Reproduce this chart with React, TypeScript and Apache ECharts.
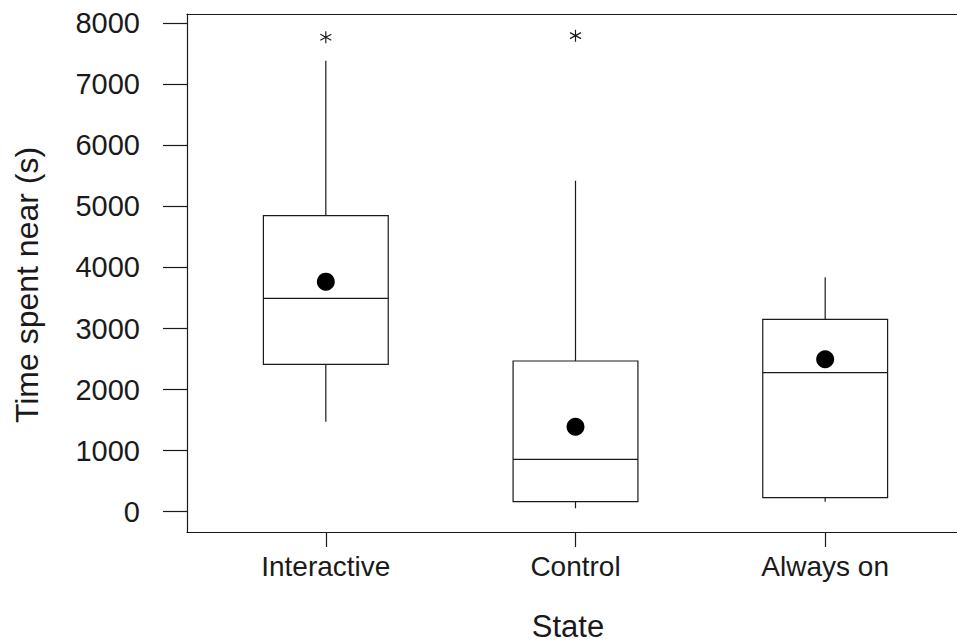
import React, { useEffect, useRef } from "react";
import * as echarts from "echarts";

const categories = ["Interactive", "Control", "Always on"];
const whiskerLow = [1474, 56, 164];
const q1 = [2414, 164, 229];
const median = [3495, 858, 2277];
const q3 = [4849, 2468, 3151];
const whiskerHigh = [7388, 5422, 3839];
const means = [3768, 1392, 2496];
const outlierCat = [1, 2];
const outlierVal = [7771, 7797];
const yTicks = [0, 1000, 2000, 3000, 4000, 5000, 6000, 7000, 8000];

const FONT = "'Liberation Sans', Arial, Helvetica, sans-serif";
const INK = "#1a1a1a";

export default function App() {
  const ref = useRef<HTMLDivElement>(null);
  useEffect(() => {
    if (!ref.current) return;
    const chart = echarts.init(ref.current, undefined, { renderer: "svg" });
    const boxData = categories.map((_, i) => [
      i + 1,
      whiskerLow[i],
      q1[i],
      median[i],
      q3[i],
      whiskerHigh[i],
    ]);
    const option: any = {
      animation: false,
      backgroundColor: "#ffffff",
      grid: {
        left: 187,
        right: 36,
        top: 14,
        bottom: 111,
        show: false,
      },
      xAxis: [
        {
          type: "value",
          min: 0.444,
          max: 3.556,
          splitLine: { show: false },
          axisLine: { show: true, onZero: false, lineStyle: { color: INK, width: 1.2 } },
          axisTick: {
            show: true,
            customValues: [1, 2, 3],
            length: 15,
            inside: false,
            lineStyle: { color: INK, width: 1.2 },
          },
          axisLabel: {
            show: true,
            customValues: [1, 2, 3],
            formatter: (v: number) => categories[Math.round(v) - 1] ?? "",
            fontSize: 28,
            fontFamily: FONT,
            color: INK,
            margin: 20,
          },
        },
        {
          type: "value",
          position: "top",
          min: 0.444,
          max: 3.556,
          splitLine: { show: false },
          axisLine: { show: true, onZero: false, lineStyle: { color: INK, width: 1.2 } },
          axisTick: { show: false },
          axisLabel: { show: false },
        },
      ],
      yAxis: {
        type: "value",
        min: -332.5,
        max: 8152,
        splitLine: { show: false },
        axisLine: { show: true, onZero: false, lineStyle: { color: INK, width: 1.2 } },
        axisTick: {
          show: true,
          customValues: yTicks,
          length: 24,
          inside: false,
          lineStyle: { color: INK, width: 1.2 },
        },
        axisLabel: {
          show: true,
          customValues: yTicks,
          formatter: (v: number) => String(v),
          fontSize: 29,
          fontFamily: FONT,
          color: INK,
          margin: 47,
        },
      },
      graphic: [
        {
          type: "text",
          x: 27,
          y: 285,
          rotation: Math.PI / 2,
          style: {
            text: "Time spent near (s)",
            fontSize: 32,
            fontFamily: FONT,
            fill: INK,
            align: "center",
            verticalAlign: "middle",
          },
        },
        {
          type: "text",
          x: 568,
          y: 626,
          style: {
            text: "State",
            fontSize: 31,
            lineHeight: 31,
            fontFamily: FONT,
            fill: INK,
            align: "center",
            verticalAlign: "middle",
          },
        },
      ],
      series: [
        {
          type: "custom",
          data: boxData,
          encode: { x: 0, y: [1, 2, 3, 4, 5] },
          renderItem: (params: any, api: any) => {
            const x = api.value(0);
            const lo = api.coord([x, api.value(1)]);
            const b1 = api.coord([x, api.value(2)]);
            const md = api.coord([x, api.value(3)]);
            const b3 = api.coord([x, api.value(4)]);
            const hi = api.coord([x, api.value(5)]);
            const half = api.size([0.5, 0])[0] / 2;
            const cx = lo[0];
            const st = { stroke: INK, lineWidth: 1.2, fill: null };
            return {
              type: "group",
              children: [
                { type: "line", shape: { x1: cx, y1: lo[1], x2: cx, y2: b1[1] }, style: st },
                { type: "line", shape: { x1: cx, y1: b3[1], x2: cx, y2: hi[1] }, style: st },
                {
                  type: "rect",
                  shape: { x: cx - half, y: b3[1], width: half * 2, height: b1[1] - b3[1] },
                  style: { stroke: INK, lineWidth: 1.2, fill: "#ffffff" },
                },
                {
                  type: "line",
                  shape: { x1: cx - half, y1: md[1], x2: cx + half, y2: md[1] },
                  style: st,
                },
              ],
            };
          },
          z: 2,
        },
        {
          type: "scatter",
          data: means.map((m, i) => [i + 1, m]),
          symbol: "circle",
          symbolSize: 18,
          itemStyle: { color: "#000000", opacity: 1 },
          z: 3,
        },
        {
          type: "scatter",
          data: outlierCat.map((c, i) => [c, outlierVal[i]]),
          symbol: "path://M0,-6L0,6M-5.2,-3L5.2,3M-5.2,3L5.2,-3",
          symbolSize: [11, 12],
          itemStyle: { color: "none", borderColor: INK, borderWidth: 1.2, opacity: 1 },
          z: 3,
        },
      ],
    };
    chart.setOption(option);
    return () => chart.dispose();
  }, []);
  return (
    <div
      style={{
        position: "fixed",
        left: 0,
        top: 0,
        width: 957,
        height: 643,
        overflow: "hidden",
      }}
    >
      <div ref={ref} style={{ width: 1000, height: 643 }} />
    </div>
  );
}
